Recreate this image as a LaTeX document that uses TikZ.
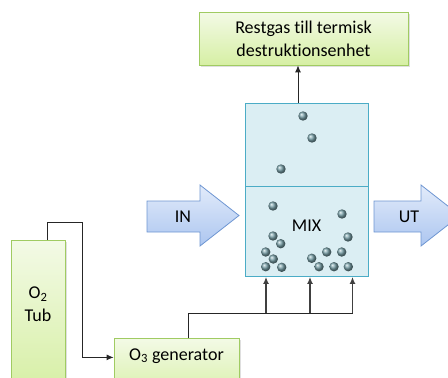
\documentclass[tikz,border=0pt]{standalone}
\usepackage{fontspec}
\setmainfont{Carlito}[Ligatures=CommonOff]
\usepackage{tikz}
\usepackage{xcolor}
\usetikzlibrary{shapes,arrows,arrows.meta,positioning,shadows,calc}

\definecolor{boxgreen}{RGB}{160,203,98}
\definecolor{greentop}{RGB}{243,250,230}
\definecolor{greenbot}{RGB}{214,239,164}
\definecolor{tankline}{RGB}{75,172,198}
\definecolor{tankfill}{RGB}{219,238,243}
\definecolor{arrline}{RGB}{110,150,210}
\definecolor{arrtop}{RGB}{226,235,250}
\definecolor{arrbot}{RGB}{172,198,240}
\definecolor{bubble}{RGB}{120,160,168}

\begin{document}
\begin{tikzpicture}[x=1pt, y=-1pt, font=\fontsize{18}{23}\selectfont,
  greenbox/.style={rectangle, draw=boxgreen, line width=0.8pt, top color=greentop, bottom color=greenbot,
    drop shadow={shadow xshift=1.5pt, shadow yshift=-1.5pt, opacity=0.25}},
  tank/.style={rectangle, draw=tankline, line width=0.9pt, fill=tankfill, inner sep=0pt, minimum width=123pt},
  bigarrow/.style={draw=arrline, line width=0.8pt, top color=arrtop, bottom color=arrbot},
  flow/.style={draw=black!85, line width=0.9pt},
  tip/.style={-{Latex[length=7pt,width=6pt]}},
  feed/.style={draw=black!75, line width=1.4pt, -{Latex[length=7pt,width=6pt]}}]
\useasboundingbox (0,0) rectangle (448,378);
\clip (0,0) rectangle (448,378);

\node[greenbox, minimum width=209pt, minimum height=53pt, align=center] (rest) at (303.5,38.5) {Restgas till termisk\\destruktionsenhet};

\node[tank, minimum height=83pt] (mixtop) at (306.5,144.5) {};
\node[tank, text height=44.7pt, text depth=45.3pt, anchor=north] (mix) at (306.5,186) {MIX};

\foreach \bx/\by in {303/116, 312/138, 281/169, 273/206, 342/214, 348/237, 273/236, 280.7/243.7,
  265.7/252, 273.3/259, 265.7/266.7, 281.7/267.3, 311.7/258.3, 319/266.7, 326.7/252, 341.7/252,
  334/266.7, 348.3/266.7}
  \shade[ball color=bubble] (\bx,\by) circle[radius=4.7pt];

% in- och utflöde
\path[bigarrow] (147,201) -- (200,201) -- (200,185) -- (239,215.5) -- (200,246) -- (200,232) -- (147,232) -- cycle;
\node (in) at (183,217) {IN};
\path[bigarrow] (374,201) -- (421,201) -- (421,185) -- (460,215.5) -- (421,246) -- (421,232) -- (374,232) -- cycle;
\node (ut) at (409,217) {UT};

\node[greenbox, minimum width=54pt, inner sep=0pt, align=center, text height=81.5pt, text depth=70pt, anchor=north] (tub) at (38,240) {O\textsubscript{2}\\Tub};
\node[greenbox, minimum width=125pt, inner ysep=10pt, text height=12pt, text depth=30pt, anchor=north] (gen) at (176.5,338) {O\textsubscript{3} generator};

\coordinate (bus) at (0,313);

\draw[flow, tip] ([xshift=-8.5pt]mixtop.north) -- ([xshift=-8.5pt]mixtop.north |- rest.south);
\draw[flow, tip] ([xshift=9pt]tub.north) |- ++(35,-18) |- ([yshift=12pt]gen.west);
\draw[flow] ([xshift=11.5pt]gen.north) |- ([xshift=46pt]mix.south |- bus);
\foreach \dx in {-40.5, 3.5, 46}
  \draw[feed] ([xshift=\dx pt]mix.south |- bus) -- ([xshift=\dx pt]mix.south);
\end{tikzpicture}
\end{document}
